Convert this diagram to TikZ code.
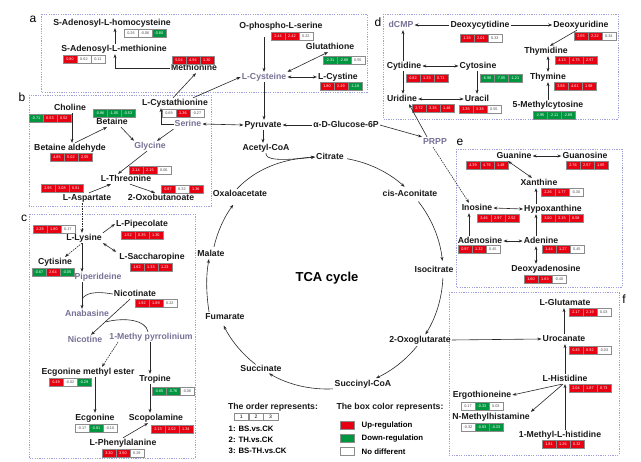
\documentclass[tikz,border=0pt]{standalone}
\usepackage{fontspec}
\setmainfont{Liberation Sans}
\usetikzlibrary{arrows.meta}
\definecolor{upred}{RGB}{230,0,18}
\definecolor{dngreen}{RGB}{0,150,64}
\definecolor{metgray}{RGB}{118,114,150}
\definecolor{panelc}{RGB}{160,160,220}
\definecolor{linec}{RGB}{40,40,40}
\tikzset{
 lab/.style={font=\bfseries\fontsize{8.7}{9}\selectfont, inner sep=1pt, text=black!90, text height=6.3pt, text depth=1.6pt},
 labg/.style={lab, text=metgray},
 cellst/.style={draw=black!45, line width=0.35pt, minimum width=13.6pt, minimum height=7.4pt, inner sep=0pt, font=\fontsize{3.8}{4}\selectfont, anchor=west},
 up/.style={cellst, fill=upred, text=white},
 dn/.style={cellst, fill=dngreen, text=white},
 nd/.style={cellst, fill=white, text=black!70},
 arr/.style={draw=linec, line width=0.6pt, -{Stealth[length=4pt,width=3pt]}},
 arrd/.style={draw=linec, line width=0.6pt, {Stealth[length=4pt,width=3pt]}-{Stealth[length=4pt,width=3pt]}},
 plain/.style={draw=linec, line width=0.6pt},
 dsh/.style={dash pattern=on 1.5pt off 1pt},
 panel/.style={draw=panelc, line width=0.6pt, dash pattern=on 1.2pt off 1.2pt},
 plabel/.style={font=\fontsize{12}{12}\selectfont, inner sep=0pt},
 leg/.style={font=\bfseries\fontsize{7.8}{8}\selectfont, inner sep=0.5pt, anchor=west},
 swatch/.style={draw=black!45, line width=0.4pt, minimum width=14pt, minimum height=8pt, inner sep=0pt},
}
\newcommand\vals[8]{%
 \node[#3] (#1a) at (#2) {#4};
 \node[#5] (#1b) at (#1a.east) {#6};
 \node[#7] (#1c) at (#1b.east) {#8};}
\begin{document}
\begin{tikzpicture}[x=1pt,y=-1pt]
\useasboundingbox[fill=white] (0,0) rectangle (641,462);
% panels
\draw[panel] (41,14) rectangle (367,92);
\draw[panel] (29,95) rectangle (211,206);
\draw[panel] (29,214) rectangle (195,458);
\draw[panel] (383,14) rectangle (618,119);
\draw[panel] (456,149) rectangle (622,287);
\draw[panel] (449,292) rectangle (619,455);
\node[plabel] (pa) at (33,19) {a};
\node[plabel] (pb) at (22,97) {b};
\node[plabel] (pc) at (24,218) {c};
\node[plabel] (pd) at (378,22) {d};
\node[plabel] (pe) at (460,142) {e};
\node[plabel] (pf) at (624,299) {f};
% ---- panel a + top
\node[lab] (sah) at (112,23) {S-Adenosyl-L-homocysteine};
\node[lab] (sam) at (114,49) {S-Adenosyl-L-methionine};
\node[lab] (met) at (194,68) {Methionine};
\node[lab] (ops) at (281,26) {O-phospho-L-serine};
\node[lab] (gsh) at (330,47) {Glutathione};
\node[labg] (cys) at (264,77) {L-Cysteine};
\node[lab] (cyss) at (338,77) {L-Cystine};
\node[lab] (pyr) at (263,125) {Pyruvate};
\node[lab] (g6p) at (346,125) {α-D-Glucose-6P};
\node[labg] (prpp) at (435,142) {PRPP};
\node[lab] (acoa) at (266,148) {Acetyl-CoA};
\node[lab] (cit) at (330,157) {Citrate};
\node[lab] (cis) at (410,194) {cis-Aconitate};
\node[lab] (iso) at (434,270) {Isocitrate};
\node[lab] (oxo) at (420,340) {2-Oxoglutarate};
\node[lab] (succoa) at (363,384) {Succinyl-CoA};
\node[lab] (succ) at (261,369) {Succinate};
\node[lab] (fum) at (225,317) {Fumarate};
\node[lab] (mal) at (211,254) {Malate};
\node[lab] (oaa) at (240,194) {Oxaloacetate};
\node[font=\bfseries\fontsize{13}{13}\selectfont] (tca) at (327,278) {TCA cycle};
% ---- panel b
\node[lab] (chol) at (70,108) {Choline};
\node[lab] (bald) at (70,148) {Betaine aldehyde};
\node[lab] (bet) at (112,122) {Betaine};
\node[labg] (gly) at (150,146) {Glycine};
\node[labg] (ser) at (188,124) {Serine};
\node[lab] (cysta) at (175,103) {L-Cystathionine};
\node[lab] (thr) at (126,179) {L-Threonine};
\node[lab] (asp) at (87,198) {L-Aspartate};
\node[lab] (oxob) at (161,198) {2-Oxobutanoate};
% ---- panel c
\node[lab] (lys) at (84,238) {L-Lysine};
\node[lab] (pipe) at (142,224) {L-Pipecolate};
\node[lab] (sac) at (152,257) {L-Saccharopine};
\node[lab] (cyt) at (55,262) {Cytisine};
\node[labg] (pipd) at (98,277) {Piperideine};
\node[lab] (nico) at (135,294) {Nicotinate};
\node[labg] (anab) at (87,314) {Anabasine};
\node[labg] (nicot) at (85,340) {Nicotine};
\node[labg] (mpyr) at (151,337) {1-Methy pyrrolinium};
\node[lab] (eme) at (88,372) {Ecgonine methyl ester};
\node[lab] (trop) at (155,379) {Tropine};
\node[lab] (ecg) at (95,418) {Ecgonine};
\node[lab] (scop) at (156,418) {Scopolamine};
\node[lab] (phe) at (123,443) {L-Phenylalanine};
% ---- panel d
\node[labg] (dcmp) at (401,25) {dCMP};
\node[lab] (dcyd) at (480,25) {Deoxycytidine};
\node[lab] (durd) at (581,25) {Deoxyuridine};
\node[lab] (thd) at (546,51) {Thymidine};
\node[lab] (thy) at (548,77) {Thymine};
\node[lab] (mc) at (548,105) {5-Methylcytosine};
\node[lab] (cyd) at (404,66) {Cytidine};
\node[lab] (cyto) at (478,66) {Cytosine};
\node[lab] (ura) at (477,99) {Uracil};
\node[lab] (urd) at (402,99) {Uridine};
% ---- panel e
\node[lab] (gua) at (514,156) {Guanine};
\node[lab] (guo) at (585,156) {Guanosine};
\node[lab] (xan) at (539,183) {Xanthine};
\node[lab] (hyp) at (553,209) {Hypoxanthine};
\node[lab] (ino) at (477,208) {Inosine};
\node[lab] (ado) at (480,241) {Adenosine};
\node[lab] (ade) at (541,241) {Adenine};
\node[lab] (dado) at (546,269) {Deoxyadenosine};
% ---- panel f
\node[lab] (glu) at (565,303) {L-Glutamate};
\node[lab] (uro) at (564,339) {Urocanate};
\node[lab] (his) at (565,379) {L-Histidine};
\node[lab] (ergo) at (482,395) {Ergothioneine};
\node[lab] (nmh) at (491,417) {N-Methylhistamine};
\node[lab] (mh) at (560,435) {1-Methyl-L-histidine};
% ---- value boxes
\vals{vsah}{124,33}{nd}{0.26}{nd}{-0.06}{dn}{-0.80}
\vals{vsam}{63,59}{up}{0.80}{nd}{0.62}{nd}{0.11}
\vals{vmet}{172,60}{up}{5.04}{up}{4.94}{up}{1.30}
\vals{vops}{271,36}{up}{2.44}{up}{2.42}{nd}{0.22}
\vals{vgsh}{323,60}{dn}{-2.31}{dn}{-2.68}{nd}{0.55}
\vals{vcyss}{320,86}{up}{1.80}{up}{2.49}{dn}{-1.18}
\vals{vchol}{29,118}{dn}{-0.71}{up}{0.53}{up}{0.52}
\vals{vbet}{93,113}{dn}{-0.86}{dn}{-1.05}{dn}{-0.53}
\vals{vcysta}{162,113}{nd}{0.69}{up}{1.36}{nd}{-0.27}
\vals{vbald}{50,157}{up}{4.85}{up}{5.02}{up}{2.55}
\vals{vthr}{129,170}{up}{2.14}{up}{2.15}{nd}{0.06}
\vals{vasp}{41,188}{up}{2.95}{up}{3.08}{up}{0.81}
\vals{voxob}{161,189}{up}{0.87}{nd}{0.32}{up}{1.36}
\vals{vlys}{33,229}{up}{2.28}{up}{1.80}{nd}{0.17}
\vals{vpipe}{121,235}{up}{1.52}{up}{0.35}{up}{1.30}
\vals{vsac}{130,267}{up}{1.62}{up}{1.33}{up}{1.23}
\vals{vcyt}{32,272}{dn}{-0.67}{up}{2.64}{dn}{-0.05}
\vals{vnico}{135,303}{up}{1.92}{up}{1.89}{nd}{0.22}
\vals{veme}{49,382}{up}{0.49}{nd}{-0.02}{dn}{-0.29}
\vals{vtrop}{152,391}{dn}{-0.65}{dn}{-0.76}{nd}{-0.06}
\vals{vecg}{75,428}{nd}{-0.17}{dn}{-0.81}{nd}{-0.10}
\vals{vscop}{151,429}{up}{2.13}{up}{2.02}{up}{1.34}
\vals{vphe}{102,453}{up}{3.30}{up}{3.50}{nd}{0.29}
\vals{vdcyd}{460,38}{up}{1.38}{up}{2.01}{nd}{0.33}
\vals{vdurd}{574,36}{up}{2.55}{up}{2.22}{nd}{0.34}
\vals{vthd}{555,60}{up}{4.13}{up}{4.75}{up}{2.57}
\vals{vthy}{554,86}{up}{3.58}{up}{4.61}{up}{1.98}
\vals{vmc}{533,115}{dn}{-2.95}{dn}{-2.11}{dn}{-2.89}
\vals{vcyd}{406,78}{up}{0.82}{up}{1.33}{up}{0.71}
\vals{vcyto}{480,78}{dn}{-6.98}{dn}{-7.05}{dn}{-1.21}
\vals{vura}{459,109}{up}{3.35}{up}{3.38}{nd}{0.55}
\vals{vurd}{412,108}{up}{2.72}{up}{3.35}{up}{1.48}
\vals{vgua}{466,165}{up}{4.39}{up}{4.76}{up}{1.48}
\vals{vguo}{566,165}{up}{2.76}{up}{2.57}{up}{1.65}
\vals{vxan}{541,192}{up}{2.26}{up}{1.77}{nd}{-0.30}
\vals{vhyp}{541,218}{up}{3.00}{up}{3.15}{up}{0.58}
\vals{vino}{477,218}{up}{3.46}{up}{2.97}{up}{2.52}
\vals{vado}{458,249}{up}{0.97}{up}{1.32}{nd}{0.45}
\vals{vade}{542,249}{up}{1.44}{up}{1.27}{nd}{0.45}
\vals{vdado}{524,279}{up}{1.60}{up}{1.63}{nd}{-0.40}
\vals{vglu}{569,312}{up}{2.17}{up}{2.19}{nd}{0.03}
\vals{vuro}{569,350}{up}{0.45}{up}{0.92}{nd}{-0.03}
\vals{vhis}{569,388}{up}{2.04}{up}{1.87}{up}{0.73}
\vals{vergo}{461,406}{nd}{0.17}{dn}{-0.33}{nd}{0.03}
\vals{vnmh}{461,427}{nd}{-0.32}{dn}{-0.83}{dn}{-0.33}
\vals{vmh}{542,444}{up}{1.81}{up}{1.26}{up}{0.32}
% ---- connectors: top / panel a
\draw[arr] (met.west) -| ([xshift=1pt]sam.south);
\draw[arr] ([xshift=1pt]sam.north) -- ([xshift=1pt]sam.north |- sah.south);
\draw[arr] ([xshift=-2pt]cysta.north) -- ([xshift=2pt]met.south);
\draw[arr] ([xshift=18pt]cysta.north) -- (cys.west);
\draw[arr] ([yshift=-6pt]cys.north |- ops.south) -- (cys.north);
\draw[arrd] ([xshift=-2pt]gsh.south) -- (cys.north east);
\draw[arrd] (cys.east) -- (cyss.west);
\draw[arr] (cys.south) -- (cys.south |- pyr.north);
\draw[arr] (g6p.west) -- (pyr.east);
\draw[arrd] (ser.east) -- (pyr.west);
\draw[arr] (g6p.east) -- (prpp.north west);
\draw[arr] ([xshift=-8pt]prpp.north) -- ([xshift=7pt]urd.south);
\draw[arr, dsh] ([xshift=-2pt]prpp.south) -- ([xshift=-8pt]ino.north);
\draw[arr] (pyr.south) -- (pyr.south |- acoa.north);
\draw[arr] (acoa.south) .. controls (265,160) and (280,161) .. (cit.west);
% TCA cycle
\coordinate (tc) at (327,273);
\draw[arr] ([shift={(-80:116)}]tc) arc[start angle=-80, end angle=-48, radius=116];
\draw[arr] ([shift={(-38:116)}]tc) arc[start angle=-38, end angle=-6, radius=116];
\draw[arr] ([shift={(2.5:116)}]tc) arc[start angle=2.5, end angle=32, radius=116];
\draw[arr] ([shift={(39:116)}]tc) arc[start angle=39, end angle=65, radius=116];
\draw[arr] ([shift={(87:116)}]tc) arc[start angle=87, end angle=120, radius=116];
\draw[arr] ([shift={(128:116)}]tc) arc[start angle=128, end angle=153, radius=116];
\draw[arr] ([xshift=-16pt]fum.north) .. controls (206,292) and (206,275) .. ([xshift=-2pt]mal.south);
\draw[arr] ([shift={(193:116)}]tc) arc[start angle=193, end angle=216, radius=116];
\draw[arr] ([xshift=-3pt]oaa.north) .. controls (255,170) and (280,159) .. (cit.west);
% panel b
\draw[arr] ([xshift=2pt]chol.south) -- ([xshift=2pt]chol.south |- bald.north);
\draw[arr] ([xshift=5pt]bald.north) -- ([xshift=-5pt]bet.south);
\draw[arr] ([xshift=9pt]bet.south) -- ([xshift=-16pt]gly.north);
\draw[arr] (ser.south west) -- ([xshift=7pt]gly.north);
\draw[arr] (ser.west) -| ([xshift=-14pt]cysta.south);
\draw[arr] ([xshift=-3pt]gly.south) -- ([xshift=-8pt]thr.north);
\draw[arr] ([xshift=2pt]asp.north) -- ([xshift=-15pt]thr.south);
\draw[arr] ([xshift=4pt]thr.south) -- ([xshift=-6pt]oxob.north);
\draw[arr, dsh] ([xshift=-5pt]asp.south) -- ([xshift=-2pt]lys.north);
% panel c
\draw[arr] (lys.north east) -- (pipe.west);
\draw[arrd] (lys.south east) -- ([xshift=-2pt]sac.north west);
\draw[arr, dsh] ([xshift=-2pt]lys.south) -- ([xshift=10pt]cyt.north);
\draw[arr] ([xshift=-2pt]lys.south) -- ([xshift=-2pt]lys.south |- pipd.north);
\draw[arr] ([xshift=-16pt]pipd.south) -- ([xshift=-16pt]pipd.south |- anab.north);
\coordinate (jn) at (82,299);
\draw[plain] (nico.west) .. controls (95,291) and (86,293) .. (jn);
\draw[arr] ([xshift=-5pt]nico.south) -- ([xshift=6pt]nicot.north);
\coordinate (br) at (105.5,322);
\draw[plain] (br) .. controls (125,317) and (146,320) .. ([xshift=-3pt]mpyr.north);
\draw[arr, dsh] ([xshift=-33pt]mpyr.south) -- ([xshift=14pt]eme.north);
\draw[arr] ([xshift=-1pt]mpyr.south) -- ([xshift=-1pt]mpyr.south |- trop.north);
\draw[arr] ([xshift=7pt]eme.south) -- ([xshift=7pt]eme.south |- ecg.north);
\draw[arr] ([xshift=-5pt]trop.south) -- ([xshift=-5pt]trop.south |- scop.north);
\draw[arr] (phe.north) -- ([xshift=-8pt]scop.south);
% panel d
\draw[arr] (dcyd.west) -- (dcmp.east);
\draw[arr] (dcyd.east) -- (durd.west);
\draw[arr] ([xshift=-4pt]durd.south) -- ([xshift=4pt]thd.north);
\draw[arrd] ([xshift=2pt]thd.south) -- ([xshift=2pt]thd.south |- thy.north);
\draw[arr] (mc.north) -- (mc.north |- thy.south);
\draw[arr] ([xshift=-1pt]cyd.north) -- ([xshift=-1pt]cyd.north |- dcmp.south);
\draw[arr] ([xshift=-1pt]cyd.south) -- ([xshift=-1pt]cyd.south |- urd.north);
\draw[arrd] (cyd.east) -- (cyto.west);
\draw[arr] ([xshift=-1pt]cyto.south) -- ([xshift=-1pt]cyto.south |- ura.north);
\draw[arrd] (urd.east) -- (ura.west);
% panel e
\draw[arrd] (gua.east) -- (guo.west);
\draw[arrd] ([xshift=-6pt]gua.south) -- ([xshift=-7pt]xan.north);
\draw[arr] ([xshift=-17pt]hyp.north) -- ([xshift=-17pt]hyp.north |- xan.south);
\draw[arrd] (ino.east) -- (hyp.west);
\draw[arr] ([xshift=-11pt]ado.north) -- ([xshift=-11pt]ado.north |- ino.south);
\draw[arrd] (ado.east) -- (ade.west);
\draw[arr] ([xshift=-5pt]ade.north) -- ([xshift=-5pt]ade.north |- hyp.south);
\draw[arrd] ([xshift=-5pt]ade.south) -- ([xshift=-5pt]ade.south |- dado.north);
% panel f
\draw[arr] (uro.north) -- (uro.north |- glu.south);
\draw[arr] (oxo.east) -- (uro.west);
\draw[arr] (his.north) -- (his.north |- uro.south);
\draw[arr] ([xshift=-3pt]his.south) -- (ergo.east);
\draw[arr] ([xshift=-2pt]his.south) -- (nmh.north east);
\draw[arr] ([xshift=5pt]mh.north) -- ([xshift=5pt]mh.north |- his.south);
% legend
\node[lab] (ordt) at (273,407) {The order represents:};
\node[nd, minimum width=14.3pt, minimum height=7pt, font=\fontsize{5}{5}\selectfont, text=black] (o1) at (234,417) {1};
\node[nd, minimum width=14.3pt, minimum height=7pt, font=\fontsize{5}{5}\selectfont, text=black] (o2) at (o1.east) {2};
\node[nd, minimum width=14.3pt, minimum height=7pt, font=\fontsize{5}{5}\selectfont, text=black] (o3) at (o2.east) {3};
\node[leg] (l1) at (228,429) {1: BS.vs.CK};
\node[leg] (l2) at (228,440) {2: TH.vs.CK};
\node[leg] (l3) at (228,451) {3: BS-TH.vs.CK};
\node[lab] (colt) at (390,407) {The box color represents:};
\node[swatch, fill=upred] (sw1) at (347,425) {};
\node[swatch, fill=dngreen] (sw2) at (347,438) {};
\node[swatch, fill=white] (sw3) at (347,451) {};
\node[leg] (u1) at (361,426) {Up-regulation};
\node[leg] (u2) at (361,439) {Down-regulation};
\node[leg] (u3) at (361,452) {No different};
\end{tikzpicture}
\end{document}
